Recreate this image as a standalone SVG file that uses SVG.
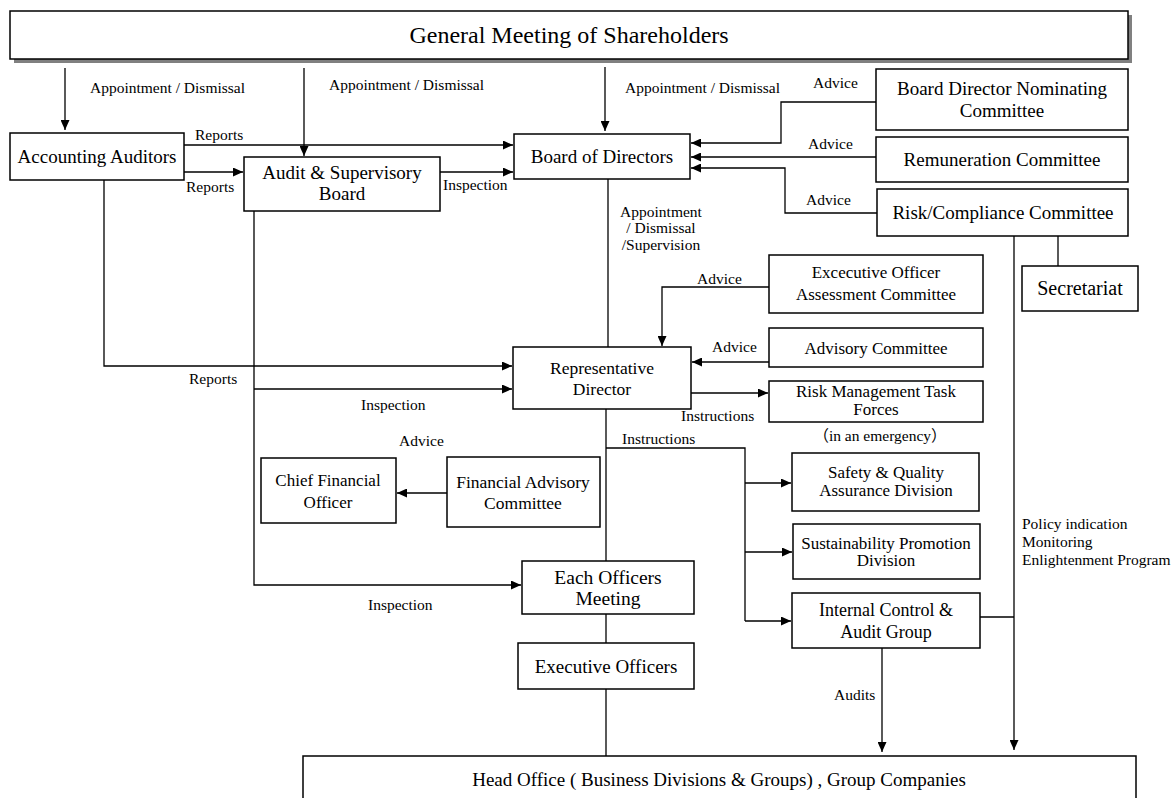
<svg xmlns="http://www.w3.org/2000/svg" width="1171" height="798" viewBox="0 0 1171 798">
<style>
.bx{fill:#fff;stroke:#000;stroke-width:1.5}
.t{font-family:"Liberation Serif","Times New Roman",serif;fill:#000;text-anchor:middle}
.n18{font-size:18px}
.n17{font-size:17px}
.n19{font-size:19px}
.lb{font-family:"Liberation Serif","Times New Roman","Noto Sans CJK JP",serif;font-size:15.5px;fill:#000}
.ln{fill:none;stroke:#000;stroke-width:1.3}
</style>
<defs>
<marker id="ah" markerUnits="userSpaceOnUse" markerWidth="11" markerHeight="9" refX="10" refY="4.5" orient="auto"><path d="M0,0 L10,4.5 L0,9 Z" fill="#000"/></marker>
</defs>
<rect width="1171" height="798" fill="#fff"/>

<g id="connectors">
<path class="ln" d="M65,68 V130" marker-end="url(#ah)"/>
<path class="ln" d="M304,68 V156" marker-end="url(#ah)"/>
<path class="ln" d="M605,67 V131" marker-end="url(#ah)"/>
<path class="ln" d="M184,145 H513" marker-end="url(#ah)"/>
<path class="ln" d="M184,172 H243" marker-end="url(#ah)"/>
<path class="ln" d="M440,172 H513" marker-end="url(#ah)"/>
<path class="ln" d="M876,102 H781 V143 H691" marker-end="url(#ah)"/>
<path class="ln" d="M876,157 H691" marker-end="url(#ah)"/>
<path class="ln" d="M877,213 H785 V168 H691" marker-end="url(#ah)"/>
<path class="ln" d="M608,179 V347"/>
<path class="ln" d="M1014,236 V750" marker-end="url(#ah)"/>
<path class="ln" d="M1058,236 V266"/>
<path class="ln" d="M769,287 H662 V346" marker-end="url(#ah)"/>
<path class="ln" d="M769,362 H692" marker-end="url(#ah)"/>
<path class="ln" d="M691,393 H768" marker-end="url(#ah)"/>
<path class="ln" d="M104,180 V366 H512" marker-end="url(#ah)"/>
<path class="ln" d="M254,211 V585 H521" marker-end="url(#ah)"/>
<path class="ln" d="M254,389 H512" marker-end="url(#ah)"/>
<path class="ln" d="M447,493 H397" marker-end="url(#ah)"/>
<path class="ln" d="M606,409 V561"/>
<path class="ln" d="M606,448 H745 V621"/>
<path class="ln" d="M745,483 H791" marker-end="url(#ah)"/>
<path class="ln" d="M745,552 H792" marker-end="url(#ah)"/>
<path class="ln" d="M745,621 H791" marker-end="url(#ah)"/>
<path class="ln" d="M606,614 V643"/>
<path class="ln" d="M606,689 V756"/>
<path class="ln" d="M882,648 V752" marker-end="url(#ah)"/>
<path class="ln" d="M980,617 H1014"/>
</g>

<g id="labels">
<text class="lb" x="90" y="93">Appointment / Dismissal</text>
<text class="lb" x="329" y="90">Appointment / Dismissal</text>
<text class="lb" x="625" y="93">Appointment / Dismissal</text>
<text class="lb" x="813" y="88">Advice</text>
<text class="lb" x="808" y="149">Advice</text>
<text class="lb" x="806" y="205">Advice</text>
<text class="lb" x="195" y="140">Reports</text>
<text class="lb" x="186" y="192">Reports</text>
<text class="lb" x="443" y="190">Inspection</text>
<text class="lb" x="661" y="217" text-anchor="middle">Appointment</text>
<text class="lb" x="661" y="233" text-anchor="middle">/ Dismissal</text>
<text class="lb" x="661" y="250" text-anchor="middle">/Supervision</text>
<text class="lb" x="697" y="284">Advice</text>
<text class="lb" x="712" y="352">Advice</text>
<text class="lb" x="681" y="421">Instructions</text>
<text class="lb" x="880" y="441" text-anchor="middle">（in an emergency）</text>
<text class="lb" x="622" y="444">Instructions</text>
<text class="lb" x="189" y="384">Reports</text>
<text class="lb" x="361" y="410">Inspection</text>
<text class="lb" x="399" y="446">Advice</text>
<text class="lb" x="368" y="610">Inspection</text>
<text class="lb" x="834" y="700">Audits</text>
<text class="lb" x="1022" y="529">Policy indication</text>
<text class="lb" x="1022" y="547">Monitoring</text>
<text class="lb" x="1022" y="565">Enlightenment  Program</text>
</g>

<g id="gms">
<rect x="14" y="15" width="1118" height="48" fill="#808080"/>
<rect class="bx" x="10" y="11" width="1118" height="48"/>
<text class="t" x="569" y="43" font-size="24">General Meeting  of Shareholders</text>
</g>
<g id="accounting-auditors">
<rect class="bx" x="10" y="133" width="174" height="47"/>
<text class="t n19" x="97" y="163">Accounting Auditors</text>
</g>
<g id="audit-board">
<rect class="bx" x="244" y="157" width="196" height="54"/>
<text class="t n19" x="342" y="179">Audit &amp; Supervisory</text>
<text class="t n19" x="342" y="200">Board</text>
</g>
<g id="board-of-directors">
<rect class="bx" x="514" y="134" width="176" height="45"/>
<text class="t n19" x="602" y="163">Board of Directors</text>
</g>
<g id="nominating">
<rect class="bx" x="876" y="69" width="252" height="61"/>
<text class="t n19" x="1002" y="95">Board Director Nominating</text>
<text class="t n19" x="1002" y="117">Committee</text>
</g>
<g id="remuneration">
<rect class="bx" x="876" y="137" width="252" height="45"/>
<text class="t n19" x="1002" y="166">Remuneration  Committee</text>
</g>
<g id="risk-compliance">
<rect class="bx" x="877" y="189" width="251" height="47"/>
<text class="t n19" x="1003" y="219">Risk/Compliance  Committee</text>
</g>
<g id="secretariat">
<rect class="bx" x="1022" y="266" width="116" height="45"/>
<text class="t" x="1080" y="295" font-size="20">Secretariat</text>
</g>
<g id="exec-assessment">
<rect class="bx" x="769" y="255" width="214" height="58"/>
<text class="t n17" x="876" y="278">Excecutive  Officer</text>
<text class="t n17" x="876" y="300">Assessment Committee</text>
</g>
<g id="advisory">
<rect class="bx" x="769" y="328" width="214" height="39"/>
<text class="t n17" x="876" y="354">Advisory Committee</text>
</g>
<g id="representative">
<rect class="bx" x="513" y="347" width="178" height="62"/>
<text class="t" x="602" y="374" font-size="17.5">Representative</text>
<text class="t" x="602" y="395" font-size="17.5">Director</text>
</g>
<g id="risk-task-forces">
<rect class="bx" x="769" y="381" width="214" height="41"/>
<text class="t n17" x="876" y="397">Risk Management Task</text>
<text class="t n17" x="876" y="415">Forces</text>
</g>
<g id="cfo">
<rect class="bx" x="261" y="458" width="135" height="65"/>
<text class="t n17" x="328" y="486">Chief Financial</text>
<text class="t n17" x="328" y="508">Officer</text>
</g>
<g id="financial-advisory">
<rect class="bx" x="447" y="457" width="153" height="70"/>
<text class="t" x="523" y="488" font-size="17.5">Financial Advisory</text>
<text class="t" x="523" y="509" font-size="17.5">Committee</text>
</g>
<g id="safety">
<rect class="bx" x="792" y="453" width="187" height="58"/>
<text class="t n17" x="886" y="478">Safety &amp; Quality</text>
<text class="t n17" x="886" y="496">Assurance Division</text>
</g>
<g id="sustainability">
<rect class="bx" x="793" y="524" width="187" height="55"/>
<text class="t n17" x="886" y="549">Sustainability Promotion</text>
<text class="t n17" x="886" y="566">Division</text>
</g>
<g id="internal-control">
<rect class="bx" x="792" y="593" width="188" height="55"/>
<text class="t n18" x="886" y="616">Internal Control &amp;</text>
<text class="t n18" x="886" y="638">Audit  Group</text>
</g>
<g id="each-officers">
<rect class="bx" x="522" y="561" width="172" height="53"/>
<text class="t" x="608" y="584" font-size="19.5">Each Officers</text>
<text class="t" x="608" y="605" font-size="19.5">Meeting</text>
</g>
<g id="executive-officers">
<rect class="bx" x="518" y="643" width="176" height="46"/>
<text class="t n19" x="606" y="673">Executive Officers</text>
</g>
<g id="head-office">
<rect class="bx" x="303" y="756" width="833" height="60"/>
<text class="t n19" x="719" y="786">Head Office ( Business Divisions  &amp; Groups) , Group Companies</text>
</g>
</svg>
